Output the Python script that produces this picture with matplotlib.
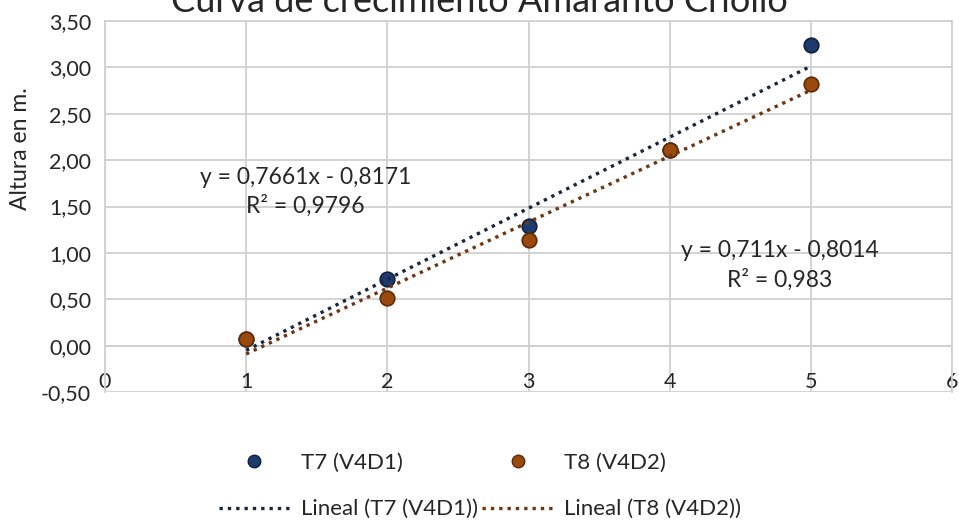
import numpy as np
import matplotlib
matplotlib.use("Agg")
import matplotlib.pyplot as plt
from matplotlib.lines import Line2D

plt.rcParams['font.family'] = ['Lato', 'DejaVu Sans']

# Data
dias = [1, 2, 3, 4, 5]
t7 = [0.07, 0.72, 1.29, 2.11, 3.24]
t8 = [0.07, 0.51, 1.14, 2.11, 2.82]
t7_fit = (0.7661, -0.8171, 0.9796)                                  # slope, intercept, R2
t8_fit = (0.711, -0.8014, 0.983)
x_ticks = [0, 1, 2, 3, 4, 5, 6]
y_ticks = [-0.5, 0.0, 0.5, 1.0, 1.5, 2.0, 2.5, 3.0, 3.5]

BLUE = '#1f3b6e'
BLUE_EDGE = '#0f1f3d'
ORANGE = '#9a4a0c'
ORANGE_EDGE = '#5e2a06'
LINE_BLUE = '#1a2540'
LINE_ORANGE = '#6e3510'
GRID = '#d0d0d0'
TXT = '#262626'
DOTS = (0, (1, 1.5))

def fmt(v, dec):
    return (('%.' + str(dec) + 'f') % v).replace('.', ',')

fig = plt.figure(figsize=(9.59, 5.23), dpi=100)
ax = fig.add_axes([0.1095, 0.2505, 0.8832, 0.7093])

ax.set_xlim(0, 6)
ax.set_ylim(-0.5, 3.5)
ax.set_xticks(x_ticks)
ax.set_yticks(y_ticks)
ax.set_yticklabels([fmt(v, 2) for v in y_ticks])
ax.grid(True, color=GRID, linewidth=1.3)
ax.set_axisbelow(True)
for s in ax.spines.values():
    s.set_color(GRID)
    s.set_linewidth(1.3)
ax.spines['bottom'].set_position(('data', 0))
ax.tick_params(length=0, labelsize=15.5, colors=TXT)
ax.tick_params(axis='x', pad=19)
ax.tick_params(axis='y', pad=10)

ax.scatter(dias, t7, s=110, color=BLUE, edgecolors=BLUE_EDGE, linewidths=1.2, zorder=3)
ax.scatter(dias, t8, s=110, color=ORANGE, edgecolors=ORANGE_EDGE, linewidths=1.2, zorder=3)

# trend lines from the equations shown on the chart
xf = np.array([dias[0], dias[-1]])
ax.plot(xf, t7_fit[0] * xf + t7_fit[1], color=LINE_BLUE, lw=2.4, ls=DOTS, zorder=4)
ax.plot(xf, t8_fit[0] * xf + t8_fit[1], color=LINE_ORANGE, lw=2.4, ls=DOTS, zorder=4)

ax.text(1.42, 1.81, 'y = ' + fmt(t7_fit[0], 4) + 'x - ' + fmt(-t7_fit[1], 4),
        ha='center', va='center', fontsize=16.5, color=TXT)
ax.text(1.42, 1.51, 'R² = ' + fmt(t7_fit[2], 4), ha='center', va='center', fontsize=16.5, color=TXT)
ax.text(4.78, 1.03, 'y = ' + fmt(t8_fit[0], 3) + 'x - ' + fmt(-t8_fit[1], 4),
        ha='center', va='center', fontsize=16.5, color=TXT)
ax.text(4.78, 0.71, 'R² = ' + fmt(t8_fit[2], 3), ha='center', va='center', fontsize=16.5, color=TXT)

fig.text(0.021, 1 - 149 / 523, 'Altura en m.', rotation=90, ha='center', va='center', fontsize=16.5, color=TXT)
fig.text(0.5, 1 - 12 / 523, 'Curva de crecimiento Amaranto Criollo', ha='center', va='baseline',
         fontsize=26, color=TXT)

handles = [
    Line2D([], [], ls='none', marker='o', ms=9, color=BLUE, mec=BLUE_EDGE),
    Line2D([], [], color=LINE_BLUE, lw=2.4, ls=DOTS),
    Line2D([], [], ls='none', marker='o', ms=9, color=ORANGE, mec=ORANGE_EDGE),
    Line2D([], [], color=LINE_ORANGE, lw=2.4, ls=DOTS),
]
labels = ['T7 (V4D1)', 'Lineal (T7 (V4D1))', 'T8 (V4D2)', 'Lineal (T8 (V4D2))']
fig.legend(handles, labels, ncol=2, loc='center', bbox_to_anchor=(480 / 959, 1 - 486 / 523), frameon=False,
           fontsize=16, handlelength=3.2, handletextpad=0.5, columnspacing=0.2, labelspacing=1.2,
           labelcolor=TXT, borderpad=0)

fig.savefig('out.png', dpi=100)
